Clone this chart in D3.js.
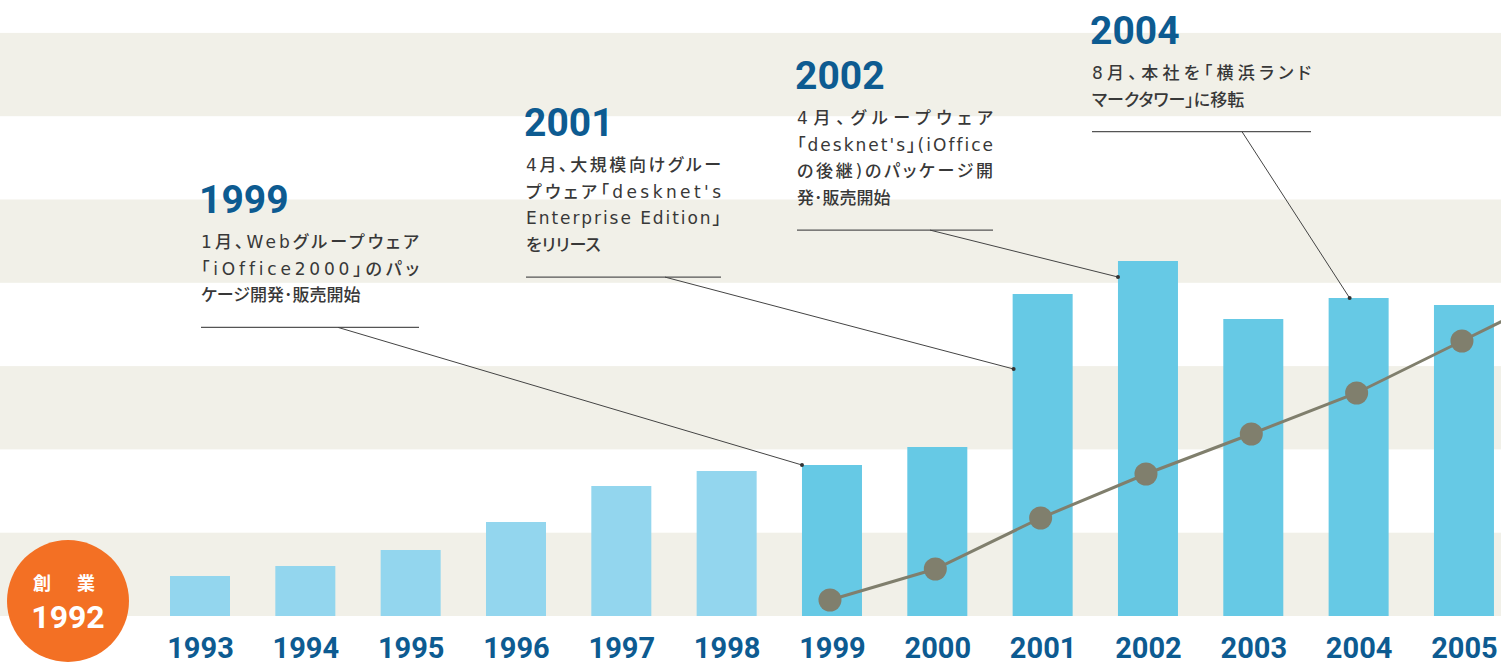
<!DOCTYPE html>
<html><head><meta charset="utf-8">
<script src="https://cdn.jsdelivr.net/npm/d3@7"></script>
<style>
html,body{margin:0;padding:0;background:#fff;overflow:hidden;}
svg{display:block;}
.jp{font-feature-settings:"palt" 1;font-variant-ligatures:none;}
</style></head>
<body><svg id="c" width="1501" height="664"></svg>
<script>
// ---- data ----
const years = [1993,1994,1995,1996,1997,1998,1999,2000,2001,2002,2003,2004,2005];
const barValues = [40,50,66,94,130,145,151,169,322,355,297,318,311];
const lineYears = [1999,2000,2001,2002,2003,2004,2005,2006];
const lineValues = [16,47,98,142,182,223,275,327];
const foundingLabel = ["創　業","1992"];
const annotations = [
  {year:"1999", target:1999, targetValue:151, lines:["1月、Webグループウェア","「iOffice2000」のパッ","ケージ開発･販売開始"]},
  {year:"2001", target:2001, targetValue:247, lines:["4月、大規模向けグルー","プウェア「desknet's","Enterprise Edition」","をリリース"]},
  {year:"2002", target:2002, targetValue:339, lines:["4月、グループウェア","「desknet's」(iOffice","の後継)のパッケージ開","発･販売開始"]},
  {year:"2004", target:2004, targetValue:318, lines:["8月、本社を「横浜ランド","マークタワー」に移転"]}
];
// ---- layout (positions only) ----
const annLayout = {
  "1999":{x:201,titleY:213,w:218,startX:338,dx:-30},
  "2001":{x:526,titleY:136,w:195,startX:665,dx:-29},
  "2002":{x:797,titleY:89,w:196,startX:930,dx:-30},
  "2004":{x:1092,titleY:44,w:219,startX:1242,dx:-9}
};
const W=1501,H=664, base=616;
const svg=d3.select("#c");
const x=d3.scalePoint().domain(d3.range(1993,2007)).range([200,200+105.33*13]);
const y=d3.scaleLinear().domain([0,616]).range([base,0]);
const bw=60;

// background bands
const bandH=83.3;
for(let i=0;i<4;i++){
  svg.append("rect").attr("x",0).attr("width",W)
    .attr("y",base-bandH-i*2*bandH).attr("height",bandH)
    .attr("fill","#f1f0e8");
}

// bars
svg.selectAll("rect.bar").data(years).join("rect").attr("class","bar")
  .attr("x",d=>x(d)-bw/2).attr("width",bw)
  .attr("y",(d,i)=>y(barValues[i])).attr("height",(d,i)=>base-y(barValues[i]))
  .attr("fill",d=>d<1999?"#93d6ee":"#66c9e5");

// line
const pts=lineYears.map((d,i)=>[x(d)-2,y(lineValues[i])]);
svg.append("path").attr("d",d3.line()(pts)).attr("fill","none")
  .attr("stroke","#807f6d").attr("stroke-width",3);
svg.selectAll("circle.pt").data(pts.slice(0,7)).join("circle").attr("class","pt")
  .attr("cx",d=>d[0]).attr("cy",d=>d[1]).attr("r",11.5).attr("fill","#807f6d");

// x axis labels
const ax=d3.axisBottom(x).tickValues(years).tickSize(0).tickPadding(0);
const g=svg.append("g").attr("transform",`translate(0,${base})`).call(ax);
g.select(".domain").remove();
g.selectAll("text").attr("y",0).attr("dy","42px")
  .attr("font-family","Roboto, 'Liberation Sans', sans-serif").attr("font-weight",700)
  .attr("font-size","29px").attr("fill","#0d5b91");

// founding circle
svg.append("circle").attr("cx",68).attr("cy",601).attr("r",61).attr("fill","#f37024");
svg.append("text").attr("x",66).attr("y",590).attr("text-anchor","middle")
  .attr("font-family","'Noto Sans CJK JP'").attr("font-weight",700).attr("font-size","18px")
  .attr("letter-spacing","4px")
  .attr("fill","#fff").attr("xml:space","preserve").text(foundingLabel[0]);
svg.append("text").attr("x",68).attr("y",628).attr("text-anchor","middle")
  .attr("font-family","Roboto, 'Liberation Sans', sans-serif").attr("font-weight",700).attr("font-size","32px")
  .attr("fill","#fff").text(foundingLabel[1]);

// annotations
annotations.forEach(a=>{
  const L=annLayout[a.year];
  const gg=svg.append("g");
  gg.append("text").attr("x",L.x-2).attr("y",L.titleY)
    .attr("font-family","Roboto, 'Liberation Sans', sans-serif").attr("font-weight",700)
    .attr("font-size","39px").attr("fill","#0d5b91").text(a.year);
  const ly0=L.titleY+35, sp=26.7;
  a.lines.forEach((t,i)=>{
    const tt=gg.append("text").attr("class","jp").attr("x",L.x).attr("y",ly0+i*sp)
      .attr("font-family","'DejaVu Sans','Noto Sans CJK JP'").attr("font-weight",500)
      .attr("font-size","17px").attr("fill","#383838").text(t);
    if(i<a.lines.length-1){tt.attr("textLength",L.w).attr("lengthAdjust","spacing");}
  });
  const uy=ly0+(a.lines.length-1)*sp+26;
  gg.append("line").attr("x1",L.x).attr("x2",L.x+L.w).attr("y1",uy).attr("y2",uy)
    .attr("stroke","#555").attr("stroke-width",1.2);
  const tx=x(a.target)+L.dx, ty=y(a.targetValue);
  gg.append("line").attr("x1",L.startX).attr("y1",uy).attr("x2",tx).attr("y2",ty)
    .attr("stroke","#444").attr("stroke-width",1);
  gg.append("circle").attr("cx",tx).attr("cy",ty).attr("r",2).attr("fill","#333");
});
</script></body></html>
